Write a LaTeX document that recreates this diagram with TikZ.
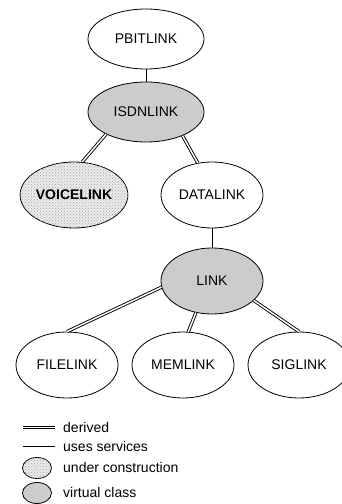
\documentclass[tikz,border=0pt]{standalone}
\usepackage{fontspec}
\setmainfont{Liberation Sans}
\usetikzlibrary{shapes.geometric,patterns}
\tikzset{
	class/.style = { ellipse, draw, line width=0.8pt, fill=white, inner sep=0pt,
		minimum width=102pt, minimum height=66pt, font=\fontsize{14}{16}\selectfont },
	virtual/.style = { class, fill=black!20 },
	building/.style = { class, fill=black!8, postaction={pattern=crosshatch dots, pattern color=black!35} },
	derived/.style = { line width=0.9pt, double=white, double distance=1.5pt },
	uses/.style = { line width=0.9pt },
	legend/.style = { anchor=west, inner sep=0pt, font=\fontsize{14}{16}\selectfont },
}
\begin{document}
\begin{tikzpicture}[x=1pt,y=1pt]
\useasboundingbox (0,0) rectangle (341,504);

% class tree
\node[class, minimum width=116pt, minimum height=60pt] (pbitlink) at (146,465) {PBITLINK};
\node[virtual, minimum width=116pt, minimum height=60pt] (isdnlink) at (146,392) {ISDNLINK};
\node[building, font=\fontsize{14}{16}\selectfont\bfseries] (voicelink) at (74,309) {VOICELINK};
\node[class] (datalink) at (212,309) {DATALINK};
\node[virtual] (link) at (212,223) {LINK};
\node[class] (filelink) at (67,139) {FILELINK};
\node[class] (memlink) at (183,139) {MEMLINK};
\node[class] (siglink) at (299,139) {SIGLINK};

\draw[uses] (pbitlink) -- (isdnlink);
\draw[derived] (isdnlink.209) -- (voicelink.76);
\draw[derived] (isdnlink.-33) -- (datalink.114);
\draw[uses] (datalink) -- (link);
\draw[derived] (link.187) -- (filelink.north);
\draw[derived] (link.243) -- (memlink.81);
\draw[derived] (link.-25) -- (siglink.north);

% legend
\coordinate (d1) at (23,76.5);
\coordinate (d2) at (55,76.5);
\coordinate (u1) at (23,58);
\coordinate (u2) at (55,58);
\draw[derived] (d1) -- (d2);
\draw[uses] (u1) -- (u2);
\node[building, minimum width=29pt, minimum height=21pt] (keybuild) at (37,36) {};
\node[virtual, minimum width=29pt, minimum height=21pt] (keyvirtual) at (37,11) {};
\node[legend] (txtderived) at (63,77) {derived};
\node[legend] (txtuses) at (63,58) {uses services};
\node[legend] (txtbuild) at (63,37) {under construction};
\node[legend] (txtvirtual) at (63,12) {virtual class};
\end{tikzpicture}
\end{document}
